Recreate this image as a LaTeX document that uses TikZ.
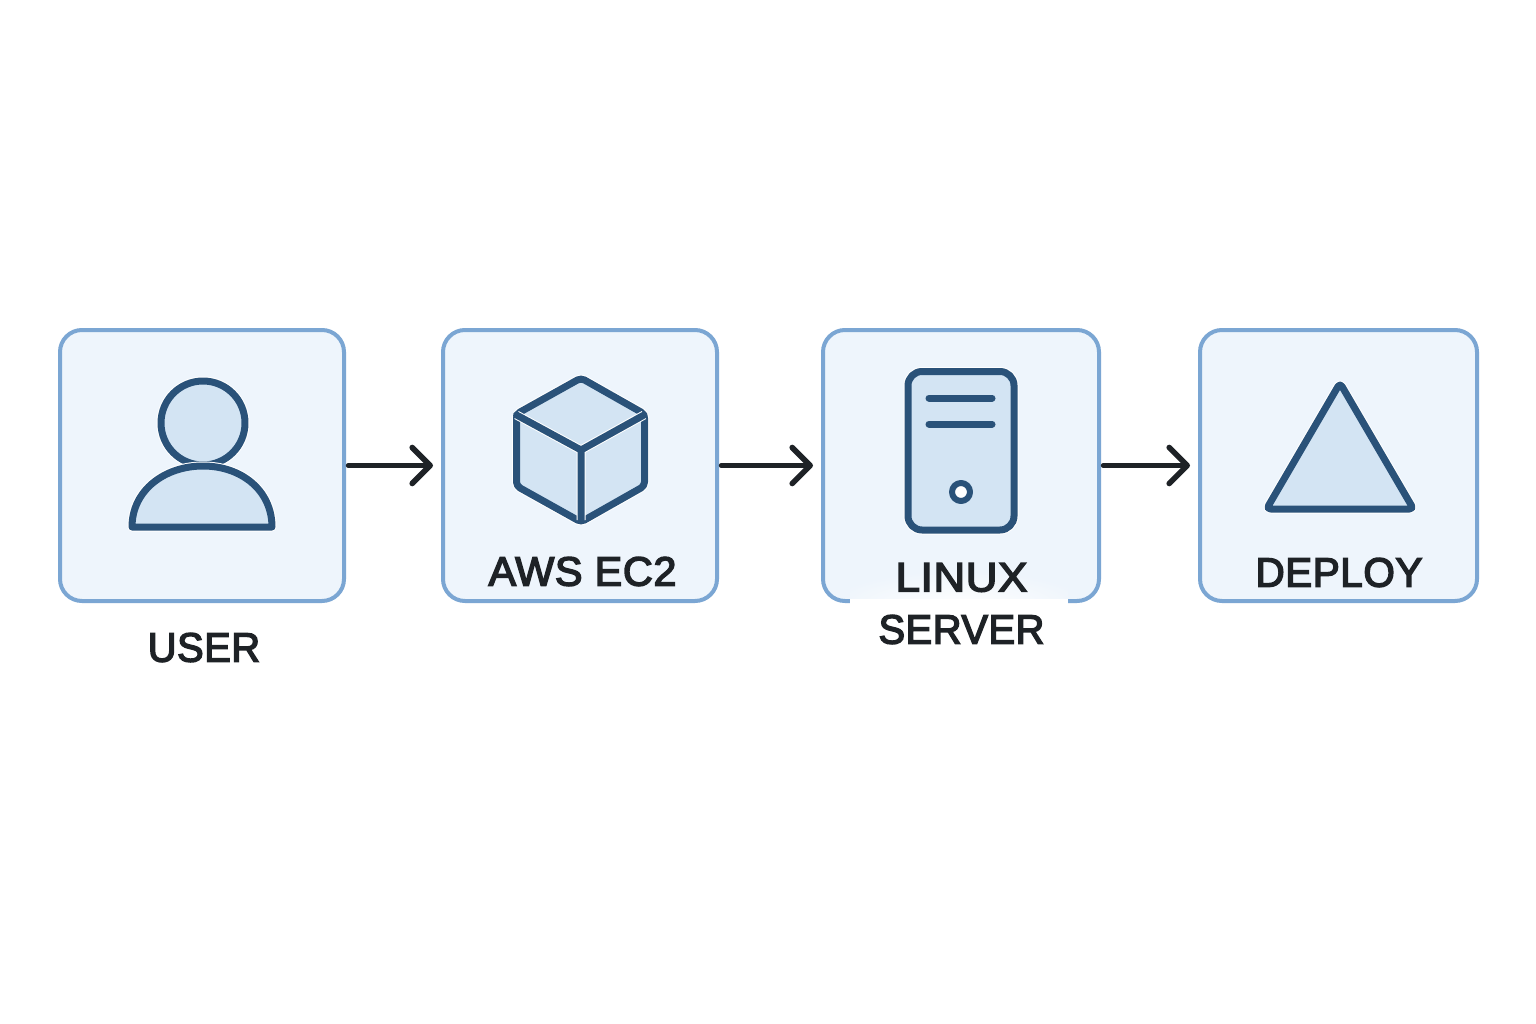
\documentclass[tikz,border=0pt]{standalone}
\usepackage{fontspec}
\setmainfont{Liberation Sans}[FakeBold=3.6,LetterSpace=1.5]
\usetikzlibrary{arrows.meta,fadings}
\definecolor{boxedge}{HTML}{7BA6D3}
\definecolor{boxfill}{HTML}{EEF5FC}
\definecolor{iconedge}{HTML}{2A5279}
\definecolor{iconfill}{HTML}{D3E4F3}
\definecolor{ink}{HTML}{1E2226}
\tikzfading[name=softgap,inner color=transparent!0,outer color=transparent!100]
\tikzset{
  panel/.style={draw=boxedge,fill=boxfill,line width=4pt,rounded corners=22pt,inner sep=0pt,minimum height=271pt},
  icon/.style={draw=iconedge,fill=iconfill,line width=7pt,line join=round,line cap=round},
  halo/.style={draw=white,line width=9pt,line join=round},
  conn/.style={draw=ink,line width=4.4pt,line cap=round,shorten >=8pt,shorten <=2pt,yshift=1pt,
    -{Straight Barb[length=18pt,width=36pt,line width=5.6pt,round]}},
  lbl/.style={font=\fontsize{41pt}{41pt}\selectfont,text=ink,inner sep=0pt,anchor=center,transform shape},
}
\begin{document}
\begin{tikzpicture}[x=1pt,y=-1pt]
\useasboundingbox (0,0) rectangle (1536,1024);
\fill[white] (0,0) rectangle (1536,1024);
% boxes
\node[panel,minimum width=284pt] (user) at (202,465.5) {};
\node[panel,minimum width=274pt] (aws) at (580,465.5) {};
\node[panel,minimum width=276pt] (linux) at (961,465.5) {};
\node[panel,minimum width=277pt] (deploy) at (1338.5,465.5) {};
% gap in the Linux box
\fill[white] (850,598.5) rectangle (1068,604.5);
\begin{scope}
\clip (850,560) rectangle (1068,620);
\fill[white,path fading=softgap] (959,606) ellipse (135 and 36);
\end{scope}
% connectors
\draw[conn] (user) -- (aws);
\draw[conn] (aws) -- (linux);
\draw[conn] (linux) -- (deploy);
% user icon
\draw[halo] (203,423) circle (42);
\draw[icon] (203,423) circle (42);
\def\bodypath{(132,527) .. controls (132,490) and (165,466) .. (203,466) .. controls (241,466) and (272,490) .. (272,527) -- cycle}
\draw[halo] \bodypath;
\draw[icon] \bodypath;
% cube icon
\def\cubepath{[rounded corners=4pt] (581,378) -- (644.5,414) -- (644.5,486) -- (581,522) -- (516.5,486) -- (516.5,414) -- cycle}
\draw[halo] \cubepath;
\draw[icon] \cubepath;
\draw[halo] (516.5,415) -- (581,450) -- (644,415) (581,450) -- (581,520);
\draw[icon,fill=none] (516.5,415) -- (581,450) -- (644,415) (581,450) -- (581,520);
% server icon
\draw[halo,rounded corners=14pt] (908,371.5) rectangle (1014,530);
\draw[icon,rounded corners=14pt] (908,371.5) rectangle (1014,530);
\draw[icon,fill=none] (929,398) -- (992,398) (929,424) -- (992,424);
\draw[icon,fill=white,line width=6pt] (961,492) circle (9);
% triangle icon
\def\tripath{[rounded corners=4pt] (1340,383) -- (1413.5,509) -- (1266.5,509) -- cycle}
\draw[halo] \tripath;
\draw[icon] \tripath;
% labels
\node[lbl,xscale=0.97] (userlabel) at (204,647.5) {USER};
\node[lbl,xscale=1.01] (awslabel) at (582.5,571.5) {AWS EC2};
\node[lbl,xscale=1.07] (linuxlabel) at (961.5,577.5) {LINUX};
\node[lbl,xscale=0.97] (serverlabel) at (961.5,629.5) {SERVER};
\node[lbl,xscale=0.985] (deploylabel) at (1339,572.5) {DEPLOY};
\end{tikzpicture}
\end{document}
